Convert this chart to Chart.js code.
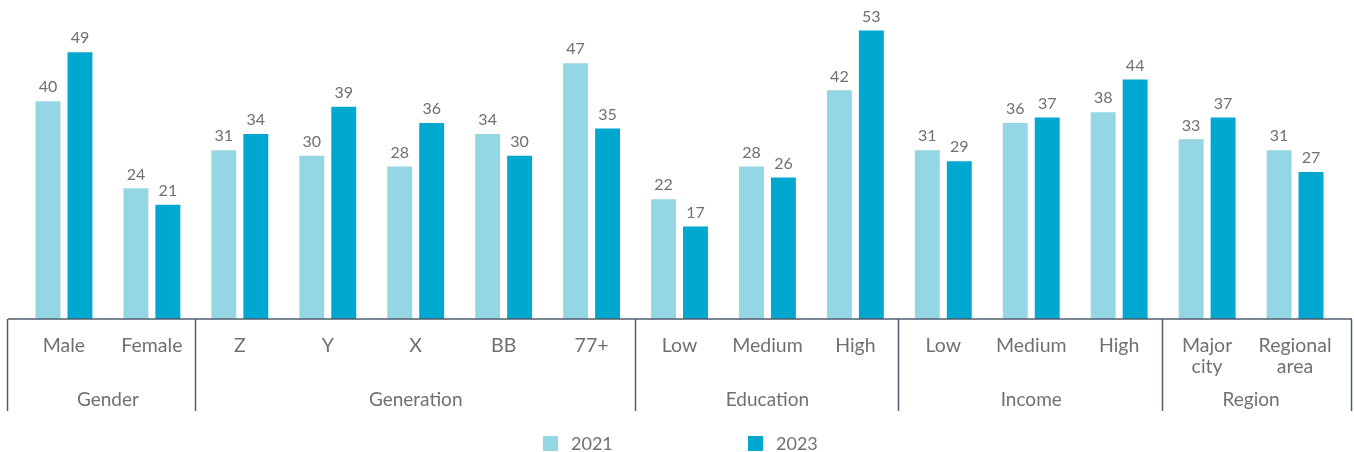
<!DOCTYPE html>
<html>
<head>
<meta charset="utf-8">
<script src="https://cdn.jsdelivr.net/npm/chart.js@4/dist/chart.umd.min.js"></script>
<style>
    html, body { margin: 0; padding: 0; background: #fff; }
    #wrap { width: 1354px; height: 452px; }
</style>
</head>
<body>
<div id="wrap"><canvas id="barChart"></canvas></div>
<script>
// categories and series values
const categories = [
    'Male', 'Female',
    'Z', 'Y', 'X', 'BB', '77+',
    'Low', 'Medium', 'High',
    'Low', 'Medium', 'High',
    ['Major', 'city'], ['Regional', 'area']
];
const values2021 = [40, 24, 31, 30, 28, 34, 47, 22, 28, 42, 31, 36, 38, 33, 31];
const values2023 = [49, 21, 34, 39, 36, 30, 35, 17, 26, 53, 29, 37, 44, 37, 27];
const groupNames = ['Gender', 'Generation', 'Education', 'Income', 'Region'];
const groupSizes = [2, 5, 3, 3, 2];

const textGrey = '#707070';
const lineColor = '#4f5b6d';
const fontFamily = 'Lato, "Open Sans", sans-serif';

// value labels above bars, group separators, group names, legend
const extras = {
    id: 'extras',
    afterDatasetsDraw(chart) {
        const ctx = chart.ctx;
        ctx.save();
        ctx.font = '16px ' + fontFamily;
        ctx.fillStyle = textGrey;
        ctx.textAlign = 'center';
        ctx.textBaseline = 'bottom';
        chart.data.datasets.forEach((ds, i) => {
            chart.getDatasetMeta(i).data.forEach((bar, j) => {
                ctx.fillText(ds.data[j], bar.x, bar.y - 6);
            });
        });
        ctx.restore();
    },
    afterDraw(chart) {
        const ctx = chart.ctx;
        const area = chart.chartArea;
        const step = (area.right - area.left) / categories.length;
        const base = area.bottom;
        ctx.save();
        ctx.strokeStyle = lineColor;
        ctx.lineWidth = 1.5;
        ctx.beginPath();
        ctx.moveTo(area.left - 12, base);
        ctx.lineTo(area.right + 13, base);
        ctx.stroke();

        let idx = 0;
        const edges = [area.left - 12];
        ctx.font = '19px ' + fontFamily;
        ctx.fillStyle = textGrey;
        ctx.textAlign = 'center';
        ctx.textBaseline = 'middle';
        groupNames.forEach((g, gi) => {
            const start = area.left + idx * step;
            idx += groupSizes[gi];
            const end = area.left + idx * step;
            ctx.fillText(g, (start + end) / 2, base + 81);
            edges.push(gi === groupNames.length - 1 ? area.right + 13 : end);
        });
        edges.forEach(e => {
            ctx.beginPath();
            ctx.moveTo(Math.round(e) - 0.5, base);
            ctx.lineTo(Math.round(e) - 0.5, base + 92);
            ctx.stroke();
        });

        // legend
        ctx.textAlign = 'left';
        ctx.font = '18px ' + fontFamily;
        chart.data.datasets.forEach((ds, i) => {
            const lx = 543 + i * 205;
            ctx.fillStyle = ds.backgroundColor;
            ctx.fillRect(lx, 436, 15, 15);
            ctx.fillStyle = textGrey;
            ctx.fillText(ds.label, lx + 28, 444);
        });
        ctx.restore();
    }
};

new Chart(document.getElementById('barChart'), {
    type: 'bar',
    data: {
        labels: categories,
        datasets: [
            {label: '2021', data: values2021, backgroundColor: '#94d6e3'},
            {label: '2023', data: values2023, backgroundColor: '#00a8cf'}
        ]
    },
    options: {
        responsive: true,
        maintainAspectRatio: false,
        animation: false,
        categoryPercentage: 0.727,
        barPercentage: 0.78,
        layout: {padding: {left: 20, right: 15, top: 6, bottom: 0}},
        plugins: {
            legend: {display: false},
            tooltip: {enabled: false}
        },
        scales: {
            x: {
                grid: {display: false, drawTicks: false},
                border: {display: false},
                ticks: {
                    color: textGrey,
                    font: {family: fontFamily, size: 19.5, lineHeight: 1.1},
                    padding: 16,
                    maxRotation: 0,
                    autoSkip: false
                },
                afterFit: s => { s.height = 133; }
            },
            y: {
                display: false,
                min: 0,
                max: 57.5
            }
        }
    },
    plugins: [extras]
});
</script>
</body>
</html>
